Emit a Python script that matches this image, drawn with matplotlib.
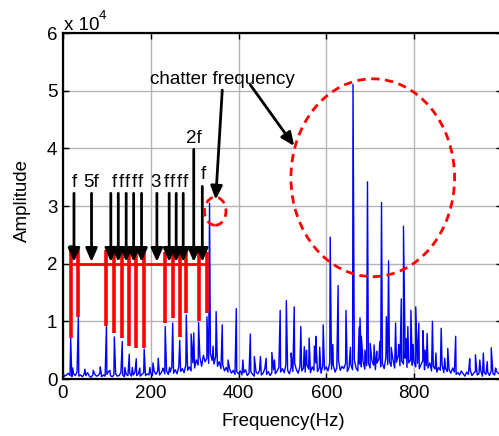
import numpy as np
import matplotlib
matplotlib.use('Agg')
import matplotlib.pyplot as plt
from matplotlib.patches import Ellipse

plt.rcParams['font.family'] = ['Liberation Sans', 'DejaVu Sans']

# amplitudes are in units of 1e4
noise_freq = np.arange(0, 1000, 4)
noise_amp = [
    0.08, 0.05, 0.07, 0.10, 0.06, 0.04, 0.09, 0.06, 0.12, 0.05,
    0.07, 0.04, 0.08, 0.06, 0.11, 0.05, 0.03, 0.07, 0.09, 0.05,
    0.06, 0.10, 0.04, 0.07, 0.05, 0.08, 0.13, 0.06, 0.04, 0.07,
    0.09, 0.05, 0.06, 0.11, 0.07, 0.04, 0.08, 0.06, 0.10, 0.05,
    0.07, 0.12, 0.06, 0.09, 0.05, 0.08, 0.11, 0.06, 0.09, 0.07,
    0.10, 0.06, 0.13, 0.08, 0.15, 0.07, 0.11, 0.18, 0.09, 0.14,
    0.08, 0.12, 0.20, 0.10, 0.16, 0.09, 0.22, 0.13, 0.18, 0.11,
    0.25, 0.15, 0.21, 0.14, 0.28,
    0.19, 0.33, 0.24, 0.38, 0.22, 0.41, 0.30, 0.36, 0.27, 0.44,
    0.32, 0.26, 0.39, 0.22, 0.30, 0.18, 0.25, 0.14, 0.20, 0.12,
    0.17, 0.10, 0.15, 0.08, 0.13,
    0.09, 0.14, 0.07, 0.11, 0.16, 0.06, 0.10, 0.13, 0.08, 0.05,
    0.12, 0.09, 0.15, 0.07, 0.10, 0.18, 0.08, 0.13, 0.06, 0.11,
    0.16, 0.09, 0.14, 0.20, 0.12,
    0.18, 0.11, 0.24, 0.15, 0.09, 0.20, 0.13, 0.27, 0.16, 0.10,
    0.22, 0.14, 0.19, 0.12, 0.25, 0.17, 0.11, 0.21, 0.15, 0.28,
    0.13, 0.19, 0.10, 0.23, 0.16,
    0.21, 0.14, 0.29, 0.17, 0.24, 0.12, 0.19, 0.31, 0.15, 0.22,
    0.18, 0.27, 0.13, 0.20, 0.25, 0.16, 0.33, 0.19, 0.14, 0.26,
    0.21, 0.30, 0.17, 0.23, 0.28,
    0.19, 0.32, 0.24, 0.16, 0.28, 0.35, 0.21, 0.27, 0.18, 0.38,
    0.25, 0.30, 0.22, 0.34, 0.19, 0.29, 0.41, 0.23, 0.31, 0.26,
    0.36, 0.20, 0.28, 0.33, 0.24,
    0.30, 0.21, 0.27, 0.18, 0.25, 0.32, 0.16, 0.23, 0.19, 0.28,
    0.14, 0.22, 0.17, 0.12, 0.20, 0.15, 0.24, 0.11, 0.18, 0.13,
    0.16, 0.10, 0.19, 0.12, 0.08,
    0.11, 0.07, 0.14, 0.09, 0.05, 0.12, 0.08, 0.16, 0.06, 0.10,
    0.13, 0.07, 0.09, 0.15, 0.05, 0.11, 0.08, 0.12, 0.06, 0.14,
    0.09, 0.07, 0.13, 0.10, 0.08,
]

# harmonics of spindle frequency (marked in red)
harm_freq = [17.5, 35, 99, 117, 135, 151, 167, 185, 233, 250, 266, 281, 309, 328]
harm_amp = [0.71, 1.08, 0.91, 0.73, 0.65, 0.43, 0.35, 0.52, 0.91, 0.97, 0.67, 1.11, 0.98, 1.08]
harm_top = [2.32, 2.26, 2.24, 2.27, 2.21, 2.21, 2.21, 2.21, 2.21, 2.21, 2.21, 2.21, 2.21, 2.21]
harm_bottom = [0.71, 1.07, 0.92, 0.80, 0.71, 0.58, 0.54, 0.54, 0.97, 1.06, 0.73, 1.15, 1.00, 1.15]

# chatter peaks
chat_freq = [334, 609, 661, 694, 726, 742, 776]
chat_amp = [3.05, 2.46, 5.11, 3.42, 3.06, 2.05, 2.65]

# other spectral lines
other_freq = [22, 50, 69, 85, 107, 141, 158, 175, 198, 205, 217, 228, 243, 292, 298,
              342, 349, 363, 376, 395, 410, 427, 436, 450, 463, 476, 482, 495, 509,
              520, 527, 542, 550, 555, 561, 573, 576, 585, 593, 615, 627, 645, 655,
              675, 677, 680, 688, 700, 709, 715, 722, 737, 748, 758, 765, 771, 782,
              786, 793, 798, 804, 811, 820, 825, 830, 842, 850, 862, 870, 877, 895,
              927, 940, 950, 958, 967, 976, 986]
other_amp = [0.19, 0.17, 0.15, 0.21, 0.15, 0.20, 0.20, 0.19, 0.20, 0.28, 0.36, 0.19, 0.20, 0.78, 0.80,
             0.57, 1.17, 0.94, 0.33, 1.22, 0.33, 0.78, 0.39, 0.39, 0.36, 0.46, 0.33, 1.19, 1.36,
             0.45, 1.25, 0.91, 0.56, 0.50, 0.71, 0.57, 0.74, 0.55, 0.94, 0.60, 1.62, 1.19, 0.55,
             0.90, 1.06, 0.74, 0.50, 0.62, 0.59, 0.48, 0.65, 1.08, 0.55, 0.97, 0.60, 1.39, 0.70,
             0.91, 1.19, 0.60, 1.25, 0.97, 0.84, 0.50, 0.79, 1.00, 0.45, 0.88, 0.36, 0.53, 0.74,
             0.35, 0.42, 0.33, 0.45, 0.30, 0.54, 0.19]

# harmonic arrows: x position, top of arrow
arrow_freq = [25, 65, 109, 126, 144, 161, 179, 214, 242, 258, 274, 298, 317.5]
arrow_top = [3.22, 3.22, 3.22, 3.22, 3.22, 3.22, 3.22, 3.22, 3.22, 3.22, 3.22, 3.98, 3.34]
arrow_tip = 2.03
# labels drawn char by char (they are spread out in the original)
label_chars = ['f', '5f', 'f', 'f', 'f', 'f', 'f', '3', 'f', 'f', 'f', 'f', '2f', 'f']
label_x = [25, 63, 117, 132, 147, 162, 177, 210, 234.8, 249.6, 264.4, 279.2, 299, 319]
label_y = [3.40, 3.40, 3.40, 3.40, 3.40, 3.40, 3.40, 3.40, 3.40, 3.40, 3.40, 3.40, 4.17, 3.54]

# merge everything into one spectrum
freq = np.concatenate([noise_freq, harm_freq, chat_freq, other_freq])
amp = np.concatenate([noise_amp, harm_amp, chat_amp, other_amp])
order = np.argsort(freq, kind='stable')
freq = freq[order]
amp = amp[order]

fig = plt.figure(figsize=(4.99, 4.36), dpi=100)
ax = fig.add_axes([63 / 499, 57 / 436, 438.75 / 499, 346 / 436])

ax.plot(freq, amp, color='#0000ff', lw=1.0, zorder=3)

# red markers for harmonics
ax.plot([harm_freq[0], harm_freq[-1]], [2.0, 2.0], color='red', lw=2.0, zorder=4)
for f, t, b in zip(harm_freq, harm_top, harm_bottom):
    ax.plot([f, f], [b, t], color='red', lw=2.6, zorder=4, solid_capstyle='butt')

arrow_style = dict(arrowstyle='-|>,head_length=0.8,head_width=0.35',
                   color='k', lw=2.0, shrinkA=0, shrinkB=0)
for f, t in zip(arrow_freq, arrow_top):
    ax.annotate('', xy=(f, arrow_tip), xytext=(f, t), arrowprops=arrow_style, zorder=5)
for s, x, y in zip(label_chars, label_x, label_y):
    ax.text(x, y, s, fontsize=13.5, ha='center', va='center', zorder=6)

# chatter frequency annotations
ax.text(363.5, 5.20, 'chatter frequency', fontsize=13.5, ha='center', va='center', zorder=6)
ax.annotate('', xy=(348, 3.11), xytext=(363, 5.01), arrowprops=arrow_style, zorder=5)
ax.annotate('', xy=(527, 4.04), xytext=(427, 5.10), arrowprops=arrow_style, zorder=5)
ax.add_patch(Ellipse((347, 2.91), 49, 0.487, fill=False, ec='red', lw=2.0,
                     ls=(0, (3, 2)), zorder=6))
ax.add_patch(Ellipse((706, 3.49), 373, 3.43, fill=False, ec='red', lw=2.0,
                     ls=(0, (3, 2)), zorder=6))

ax.set_xlim(0, 1000)
ax.set_ylim(0, 6)
ax.set_xticks([0, 200, 400, 600, 800, 1000])
ax.set_xticklabels(['0', '200', '400', '600', '800', ''])
ax.set_yticks(range(7))
ax.grid(True, color='#b4b4b4', lw=1.0, ls='-')
ax.set_axisbelow(True)
ax.tick_params(direction='in', top=True, right=True, length=4, width=1,
               labelsize=13.5, pad=4)
for sp in ax.spines.values():
    sp.set_linewidth(1.6)

fig.text(283 / 499, 1 - 421.7 / 436, 'Frequency(Hz)', fontsize=13.5, ha='center', va='center')
fig.text(22.5 / 499, 1 - 200 / 436, 'Amplitude', fontsize=13.5, ha='center', va='center',
         rotation=90)
fig.text(64 / 499, 1 - 25 / 436, 'x 10', fontsize=13.5, ha='left', va='center')
fig.text(99 / 499, 1 - 16 / 436, '4', fontsize=9.5, ha='left', va='center')

fig.savefig('out.png', dpi=100)
